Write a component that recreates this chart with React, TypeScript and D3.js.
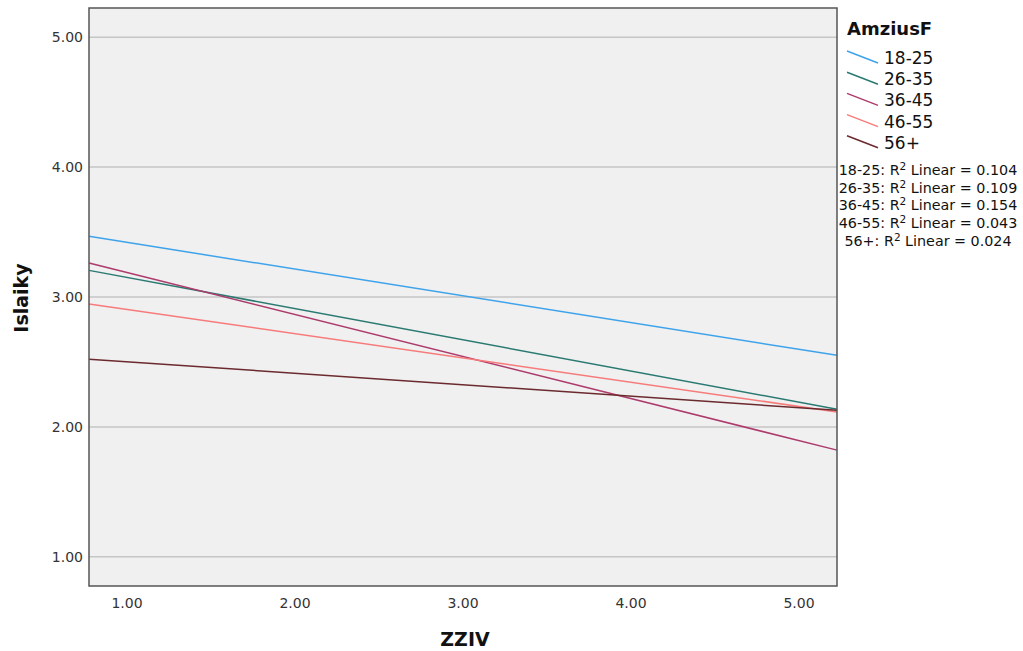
import * as React from "react";
import { line, scaleLinear } from "d3";

const groups = ["18-25", "26-35", "36-45", "46-55", "56+"];
const groupColors = ["#3ea3ea", "#2a7a72", "#ad3a6c", "#f77b7b", "#6b2a2e"];
// fitted value at the left and right end of the x range
const fitStart = [3.467, 3.205, 3.262, 2.946, 2.521];
const fitEnd = [2.551, 2.136, 1.821, 2.115, 2.128];
const rSquared = ["0.104", "0.109", "0.154", "0.043", "0.024"];

const xDomain = [0.774, 5.226];
const yDomain = [0.775, 5.225];
const xTicks = [1, 2, 3, 4, 5];
const yTicks = [1, 2, 3, 4, 5];

const font = "'DejaVu Sans', Verdana, sans-serif";

export default function App() {
  const width = 1023;
  const height = 651;
  const plot = { left: 89, top: 8, right: 837, bottom: 586 };

  const x = scaleLinear().domain(xDomain).range([plot.left, plot.right]);
  const y = scaleLinear().domain(yDomain).range([plot.bottom, plot.top]);

  const fitLine = line<[number, number]>()
    .x((d) => x(d[0]))
    .y((d) => y(d[1]));

  return (
    <svg
      width={width}
      height={height}
      style={{ position: "absolute", left: 0, top: 0, background: "#fff" }}
    >
      <rect
        x={plot.left}
        y={plot.top}
        width={plot.right - plot.left}
        height={plot.bottom - plot.top}
        fill="#f0f0f0"
      />
      {yTicks.map((t) => (
        <line
          key={`grid-${t}`}
          x1={plot.left}
          x2={plot.right}
          y1={y(t)}
          y2={y(t)}
          stroke="#c6c6c6"
          strokeWidth={1.5}
        />
      ))}
      {groups.map((g, i) => (
        <path
          key={`fit-${g}`}
          d={
            fitLine([
              [xDomain[0], fitStart[i]],
              [xDomain[1], fitEnd[i]],
            ]) ?? ""
          }
          stroke={groupColors[i]}
          strokeWidth={1.5}
          fill="none"
        />
      ))}
      <rect
        x={plot.left}
        y={plot.top}
        width={plot.right - plot.left}
        height={plot.bottom - plot.top}
        fill="none"
        stroke="#555"
        strokeWidth={1.5}
      />

      {yTicks.map((t) => (
        <text
          key={`ylab-${t}`}
          x={plot.left - 6}
          y={y(t) + 5}
          textAnchor="end"
          fontFamily={font}
          fontSize={14}
          fill="#333"
        >
          {t.toFixed(2)}
        </text>
      ))}
      {xTicks.map((t) => (
        <text
          key={`xlab-${t}`}
          x={x(t)}
          y={608}
          textAnchor="middle"
          fontFamily={font}
          fontSize={14}
          fill="#333"
        >
          {t.toFixed(2)}
        </text>
      ))}

      <text
        x={465}
        y={646}
        textAnchor="middle"
        fontFamily={font}
        fontWeight="bold"
        fontSize={19}
        fill="#111"
      >
        ZZIV
      </text>
      <text
        transform="translate(28, 298) rotate(-90)"
        textAnchor="middle"
        fontFamily={font}
        fontWeight="bold"
        fontSize={19}
        fill="#111"
      >
        Islaiky
      </text>

      <text
        x={847}
        y={35}
        fontFamily={font}
        fontWeight="bold"
        fontSize={18}
        fill="#111"
      >
        AmziusF
      </text>
      {groups.map((g, i) => (
        <g key={`leg-${g}`}>
          <line
            x1={847}
            x2={878}
            y1={51 + i * 21.2}
            y2={63 + i * 21.2}
            stroke={groupColors[i]}
            strokeWidth={1.5}
          />
          <text
            x={884}
            y={64 + i * 21.2}
            fontFamily={font}
            fontSize={17}
            fill="#111"
          >
            {g}
          </text>
        </g>
      ))}
      {groups.map((g, i) => (
        <text
          key={`r2-${g}`}
          x={928}
          y={175 + i * 17.7}
          textAnchor="middle"
          fontFamily={font}
          fontSize={14.3}
          fill="#111"
        >
          {`${g}: R`}
          <tspan dy={-5} fontSize={10.5}>
            2
          </tspan>
          <tspan dy={5}>{` Linear = ${rSquared[i]}`}</tspan>
        </text>
      ))}
    </svg>
  );
}
